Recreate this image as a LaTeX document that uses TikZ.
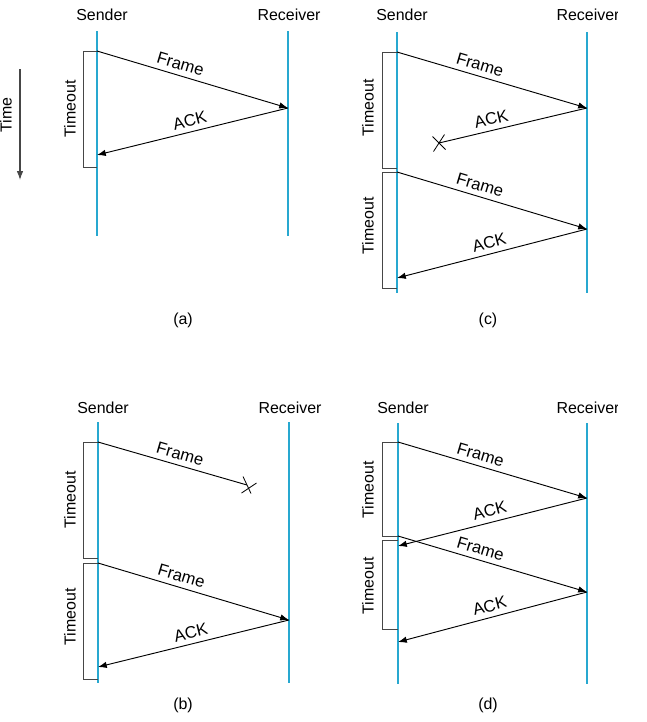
\documentclass[tikz,border=0pt]{standalone}
\usepackage{fontspec}
\setmainfont{Liberation Sans}
\usetikzlibrary{arrows.meta}
\definecolor{lineblue}{RGB}{40,168,208}
\definecolor{brkgray}{RGB}{70,70,70}

\begin{document}
\begin{tikzpicture}[x=0.03cm,y=-0.03cm,>={Latex[length=7.5pt,width=5.5pt]},
  every node/.style={font=\fontsize{13.6}{16}\selectfont},
  timeline/.style={draw=lineblue,line width=1pt},
  msg/.style={->,line width=0.8pt},
  brk/.style={draw=brkgray,line width=0.8pt},
  cross/.style={line width=0.7pt},
  lbl/.style={sloped,above=1pt,font=\fontsize{14.2}{16}\selectfont}]
  \useasboundingbox (0,0) rectangle (647,722);

  % (a)
  \node (sndA) at (102,15) {Sender};
  \node (rcvA) at (289,15) {Receiver};
  \coordinate (aS0) at (97,31);  \coordinate (aS1) at (97,236);
  \coordinate (aR0) at (288,31); \coordinate (aR1) at (288,236);
  \draw[timeline] (aS0) -- (aS1);
  \draw[timeline] (aR0) -- (aR1);
  \coordinate (aF) at (97,51); \coordinate (aR) at (288,108); \coordinate (aA) at (97,155);
  \draw[brk] (aF) -- (83,51) -- (83,167) -- (97,167);
  \node[rotate=90] (toA) at (70,109) {Timeout};
  \draw[msg] (aF) -- (aR) node[lbl,pos=0.42]{Frame};
  \draw[msg] (aR) -- (aA) node[lbl,pos=0.5]{ACK};
  \coordinate (t0) at (20,69); \coordinate (t1) at (20,180);
  \draw[->,draw=brkgray,line width=0.9pt] (t0) -- (t1);
  \node[rotate=90] (time) at (6,115) {Time};
  \node (capA) at (183,320) {(a)};

  % (c)
  \node (sndC) at (402,15) {Sender};
  \begin{scope}
    \clip (540,0) rectangle (617,40);
    \node (rcvC) at (588,15) {Receiver};
  \end{scope}
  \coordinate (cS0) at (397,32);  \coordinate (cS1) at (397,293);
  \coordinate (cR0) at (587,32);  \coordinate (cR1) at (587,293);
  \draw[timeline] (cS0) -- (cS1);
  \draw[timeline] (cR0) -- (cR1);
  \coordinate (cF1) at (397,52);  \coordinate (cR1m) at (587,108); \coordinate (cX) at (439,143);
  \coordinate (cF2) at (397,172); \coordinate (cR2m) at (587,229); \coordinate (cA2) at (397,278);
  \draw[brk] (cF1) -- (382,52) -- (382,168) -- (397,168);
  \draw[brk] (cF2) -- (382,172) -- (382,288) -- (397,288);
  \node[rotate=90] (toC1) at (368,108) {Timeout};
  \node[rotate=90] (toC2) at (368,226) {Timeout};
  \draw[msg] (cF1) -- (cR1m) node[lbl,pos=0.42]{Frame};
  \draw[line width=0.8pt] (cR1m) -- (cX) node[lbl,pos=0.63]{ACK};
  \draw[cross] (cX) +(-6.5,-6.5) -- +(6.5,6.5) (cX) +(-5.5,8.5) -- +(5.5,-8.5);
  \draw[msg] (cF2) -- (cR2m) node[lbl,pos=0.42]{Frame};
  \draw[msg] (cR2m) -- (cA2) node[lbl,pos=0.5]{ACK};
  \node (capC) at (488,320) {(c)};

  % (b)
  \node (sndB) at (103,408) {Sender};
  \node (rcvB) at (290,408) {Receiver};
  \coordinate (bS0) at (98,422);  \coordinate (bS1) at (98,683);
  \coordinate (bR0) at (289,422); \coordinate (bR1) at (289,683);
  \draw[timeline] (bS0) -- (bS1);
  \draw[timeline] (bR0) -- (bR1);
  \coordinate (bF1) at (98,442); \coordinate (bX) at (247,485);
  \coordinate (bF2) at (98,563); \coordinate (bR2m) at (289,620); \coordinate (bA) at (98,667);
  \draw[brk] (bF1) -- (83,442) -- (83,558) -- (98,558);
  \draw[brk] (bF2) -- (83,563) -- (83,679) -- (98,679);
  \node[rotate=90] (toB1) at (70,500) {Timeout};
  \node[rotate=90] (toB2) at (70,617) {Timeout};
  \draw[line width=0.8pt] (bF1) -- (bX) node[lbl,pos=0.53]{Frame};
  \draw[cross] (bX) +(-4,-8.5) -- +(4,8.5) (bX) +(-5.5,8) -- +(9.5,-2);
  \draw[msg] (bF2) -- (bR2m) node[lbl,pos=0.42]{Frame};
  \draw[msg] (bR2m) -- (bA) node[lbl,pos=0.5]{ACK};
  \node (capB) at (183,705) {(b)};

  % (d)
  \node (sndD) at (403,408) {Sender};
  \begin{scope}
    \clip (540,390) rectangle (617,430);
    \node (rcvD) at (588,408) {Receiver};
  \end{scope}
  \coordinate (dS0) at (398,423);  \coordinate (dS1) at (398,684);
  \coordinate (dR0) at (587,423);  \coordinate (dR1) at (587,684);
  \draw[timeline] (dS0) -- (dS1);
  \draw[timeline] (dR0) -- (dR1);
  \coordinate (dF1) at (398,442); \coordinate (dR1m) at (587,498); \coordinate (dA1) at (398,546);
  \coordinate (dF2) at (398,536); \coordinate (dR2m) at (587,592); \coordinate (dA2) at (398,642);
  \draw[brk] (dF1) -- (382,442) -- (382,536) -- (398,536);
  \draw[brk] (398,540) -- (382,540) -- (382,629) -- (398,629);
  \node[rotate=90] (toD1) at (368,490) {Timeout};
  \node[rotate=90] (toD2) at (368,586) {Timeout};
  \draw[msg] (dF1) -- (dR1m) node[lbl,pos=0.42]{Frame};
  \draw[msg] (dR1m) -- (dA1) node[lbl,pos=0.5]{ACK};
  \draw[msg] (dF2) -- (dR2m) node[lbl,pos=0.42]{Frame};
  \draw[msg] (dR2m) -- (dA2) node[lbl,pos=0.5]{ACK};
  \node (capD) at (488,705) {(d)};
\end{tikzpicture}
\end{document}
